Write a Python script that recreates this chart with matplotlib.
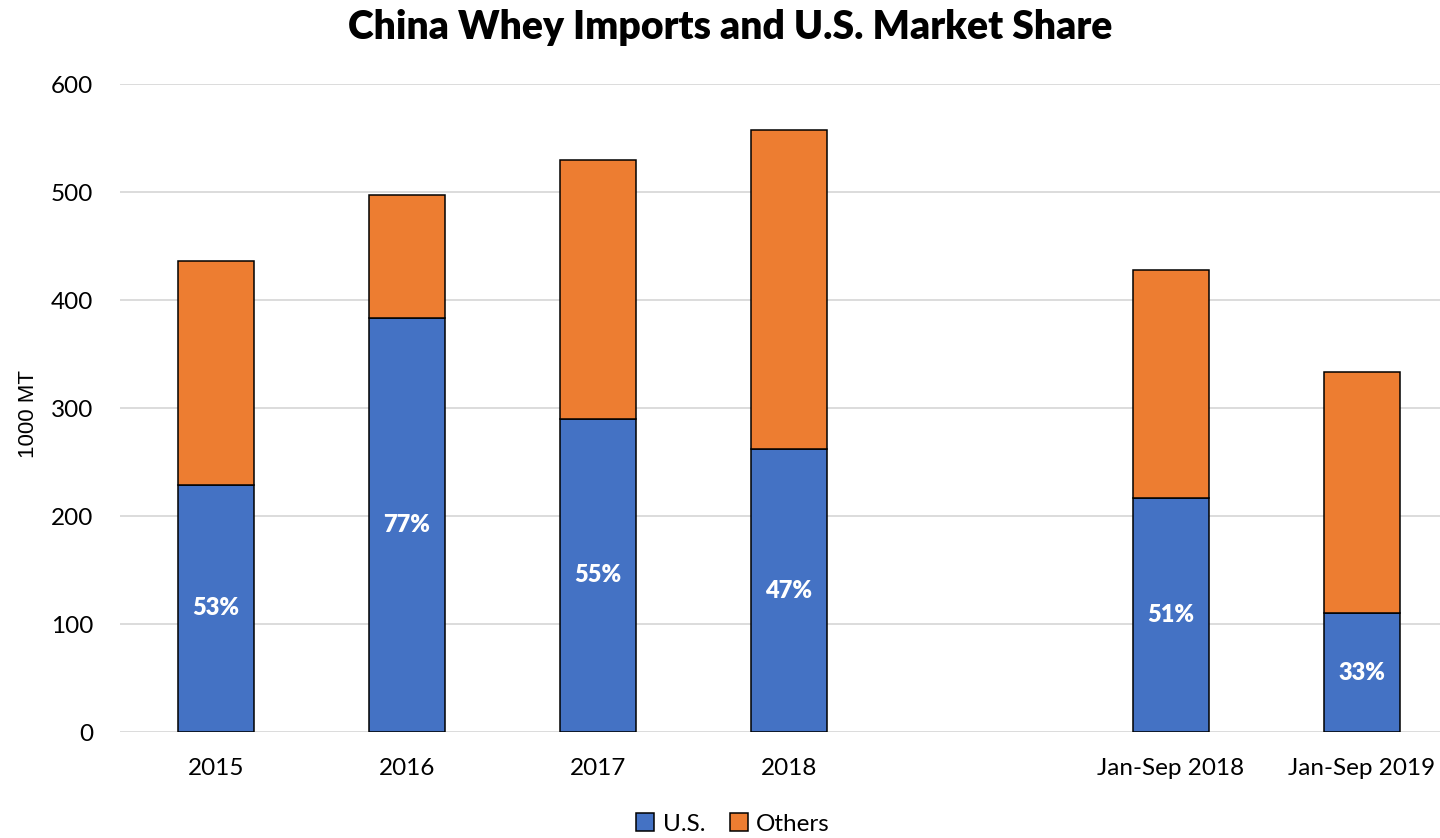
import matplotlib
matplotlib.use("Agg")
import matplotlib.pyplot as plt
import numpy as np

categories = ["2015", "2016", "2017", "2018", "", "Jan-Sep 2018", "Jan-Sep 2019"]
us_values = [229, 383, 290, 262, None, 217, 110]
others_values = [207, 114, 240, 295, None, 211, 223]
share_labels = ["53%", "77%", "55%", "47%", "", "51%", "33%"]
yticks = [0, 100, 200, 300, 400, 500, 600]

plt.rcParams['font.family'] = ['Lato', 'DejaVu Sans']

fig = plt.figure(figsize=(14.4, 8.38), dpi=100)
ax = fig.add_axes([120.5/1440, 106/838, 1337/1440, 648/838])

x = np.arange(len(categories))
idx = [i for i, v in enumerate(us_values) if v is not None]
us = np.array([us_values[i] for i in idx], dtype=float)
oth = np.array([others_values[i] for i in idx], dtype=float)
xs = x[idx]

blue = "#4472C4"
orange = "#ED7D31"
w = 0.4
ax.bar(xs, us, width=w, color=blue, edgecolor="black", linewidth=1.1, label="U.S.", zorder=3)
ax.bar(xs, oth, width=w, bottom=us, color=orange, edgecolor="black", linewidth=1.1, label="Others", zorder=3)

for xi, u, i in zip(xs, us, idx):
    ax.text(xi, u / 2, share_labels[i], ha="center", va="center", color="white",
            fontsize=17, fontweight="heavy", zorder=4)

ax.set_xlim(-0.5, len(categories) - 0.5)
ax.set_ylim(0, 600)
ax.set_yticks(yticks)
ax.set_xticks(x)
ax.set_xticklabels(categories)
ax.tick_params(axis="both", length=0, labelsize=17.5, colors="black")
ax.tick_params(axis="x", pad=19)
ax.tick_params(axis="y", pad=19.5)
ax.yaxis.grid(True, color="#d9d9d9", linewidth=1.3, zorder=0)
ax.set_axisbelow(True)
for s in ax.spines.values():
    s.set_visible(False)

fig.text(28/1440, 1 - 414/838, "1000 MT", rotation=90, ha="center", va="center",
         fontsize=16, family=["Liberation Sans Narrow", "Liberation Sans", "DejaVu Sans"])

fig.text(730/1440, 1 - 27/838, "China Whey Imports and U.S. Market Share", ha="center", va="center",
         fontsize=28.2, fontweight="heavy")

leg = fig.legend(loc="center", bbox_to_anchor=(733/1440, 1 - 824/838), ncol=2, frameon=False,
                 fontsize=17.5, handlelength=0.75, handleheight=0.75, handletextpad=0.35, columnspacing=1.0,
                 borderpad=0)

fig.savefig("out.png", dpi=100)
